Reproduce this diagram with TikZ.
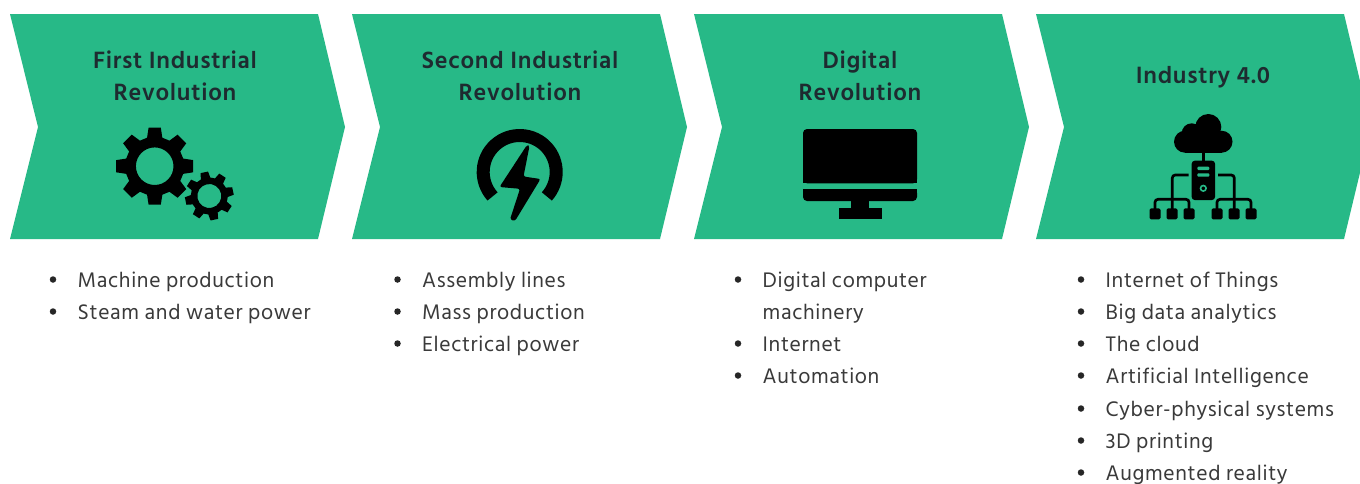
\documentclass[tikz,border=0pt]{standalone}
\usepackage{fontspec}
\setmainfont{Hind Siliguri}[LetterSpace=3]
\definecolor{chev}{HTML}{27B987}
\definecolor{ink}{HTML}{3A3A3A}
\definecolor{head}{HTML}{1E2B30}
\tikzset{
  chevshape/.style={fill=chev,draw=none},
  headline/.style={font=\fontsize{24.2}{32}\selectfont\bfseries,text=head,align=center,anchor=center,inner sep=0pt},
  bullets/.style={font=\fontsize{21.6}{32}\selectfont,text=ink,anchor=base west,inner sep=0pt},
  dot/.style={fill=black!85,draw=none,circle,minimum size=6.5pt,inner sep=0pt},
  icon/.style={fill=black,draw=none},
  wire/.style={draw=black,line width=2.7pt,rounded corners=3pt},
}
\newcommand{\chevron}[1]{\fill[chevshape] (#1,14) -- (#1+308,14) -- (#1+335,127) -- (#1+308,239) -- (#1,239) -- (#1+28,127) -- cycle;}
\newcommand{\bul}[4]{\node[dot] (d#4) at (#1,#3-7.5) {}; \node[bullets] (t#4) at (#1+24.5,#3) {#2};}
\newcommand{\gear}[6]{%
  \begin{scope}[shift={(#1,#2)},rotate=#6]
  \fill[icon,even odd rule] (-9:#3)
    \foreach \a in {0,45,...,315}{
      -- (\a-9:#3) -- (\a+9:#3) -- (\a+15:#4) -- (\a+30:#4)
    } -- cycle (0,0) circle[radius=#5];
  \end{scope}}
\begin{document}
\begin{tikzpicture}[x=1pt,y=-1pt]
\useasboundingbox (0,0) rectangle (1360,483);
\fill[white] (0,0) rectangle (1360,483);
\chevron{10}\chevron{352}\chevron{694}\chevron{1036}
\node[headline] (h1) at (175,75.5) {First Industrial\\Revolution};
\node[headline] (h2) at (520,75.5) {Second Industrial\\Revolution};
\node[headline] (h3) at (860,75.5) {Digital\\Revolution};
\node[headline] (h4) at (1203,77.5) {Industry 4.0};
% gears
\gear{154.7}{166.2}{39}{29.5}{18.8}{0}
\gear{209.3}{196}{24.5}{18.5}{12}{12}
% power bolt
\begin{scope}[shift={(519.7,172)}]
\draw[black,line width=13pt] (138:36.5) arc[start angle=138,end angle=402,radius=36.5];
\end{scope}
\fill[icon,rounded corners=2.2pt] (527,145) -- (499.5,187) -- (520,188.8) -- (510,219.5) -- (515,221) -- (540.5,179) -- (523.5,176.5) -- (529.5,146) -- cycle;
% monitor
\fill[icon,rounded corners=4pt] (803,183.3) -- (803,129) -- (917,129) -- (917,183.3) -- cycle;
\fill[icon] (803,178) rectangle (917,183.3);
\fill[icon,rounded corners=4pt] (803,189) -- (803,201) -- (917,201) -- (917,189) -- cycle;
\fill[icon] (803,189) rectangle (917,194);
\fill[icon] (851,201) rectangle (869.3,208.5);
\fill[icon] (838.7,208.3) rectangle (881.7,219.3);
% cloud and network
\fill[icon] (1185,141.7) circle[radius=11];
\fill[icon] (1191.7,133.3) circle[radius=10];
\fill[icon] (1208.3,127) circle[radius=13];
\fill[icon] (1221.5,141.7) circle[radius=11];
\fill[icon] (1185,135) rectangle (1221.5,152.7);
\fill[icon] (1202,152) rectangle (1204.6,161);
\fill[icon,rounded corners=3pt] (1191.7,160.7) rectangle (1215,200);
\fill[chev,rounded corners=1pt] (1197.3,166.7) rectangle (1209.3,170);
\fill[chev,rounded corners=1pt] (1197.3,173.3) rectangle (1209.3,176.7);
\draw[chev,line width=1.6pt] (1203.3,188.3) circle[radius=2.8];
\draw[wire] (1188.5,175) -- (1172.3,175) -- (1172.3,209);
\draw[wire] (1155,209) -- (1155,199.3) -- (1189,199.3) -- (1189,209);
\draw[wire] (1218,175) -- (1234.3,175) -- (1234.3,209);
\draw[wire] (1217,209) -- (1217,199.3) -- (1251,199.3) -- (1251,209);
\foreach \lf in {1155,1172,1189,1217,1234,1251}{
  \fill[icon,rounded corners=1.5pt] (\lf-5.5,208.3) rectangle (\lf+5.5,219.4);
}
% bullet lists
\bul{53}{Machine production}{287}{a1}
\bul{53}{Steam and water power}{319}{a2}
\bul{397.5}{Assembly lines}{287}{b1}
\bul{397.5}{Mass production}{319}{b2}
\bul{397.5}{Electrical power}{351}{b3}
\bul{738}{Digital computer}{287}{c1}
\node[bullets] (c1b) at (762.5,319) {machinery};
\bul{738}{Internet}{351}{c2}
\bul{738}{Automation}{383}{c3}
\bul{1081}{Internet of Things}{287}{e1}
\bul{1081}{Big data analytics}{319}{e2}
\bul{1081}{The cloud}{351}{e3}
\bul{1081}{Artificial Intelligence}{383}{e4}
\bul{1081}{Cyber-physical systems}{416}{e5}
\bul{1081}{3D printing}{448}{e6}
\bul{1081}{Augmented reality}{480}{e7}
\end{tikzpicture}
\end{document}
